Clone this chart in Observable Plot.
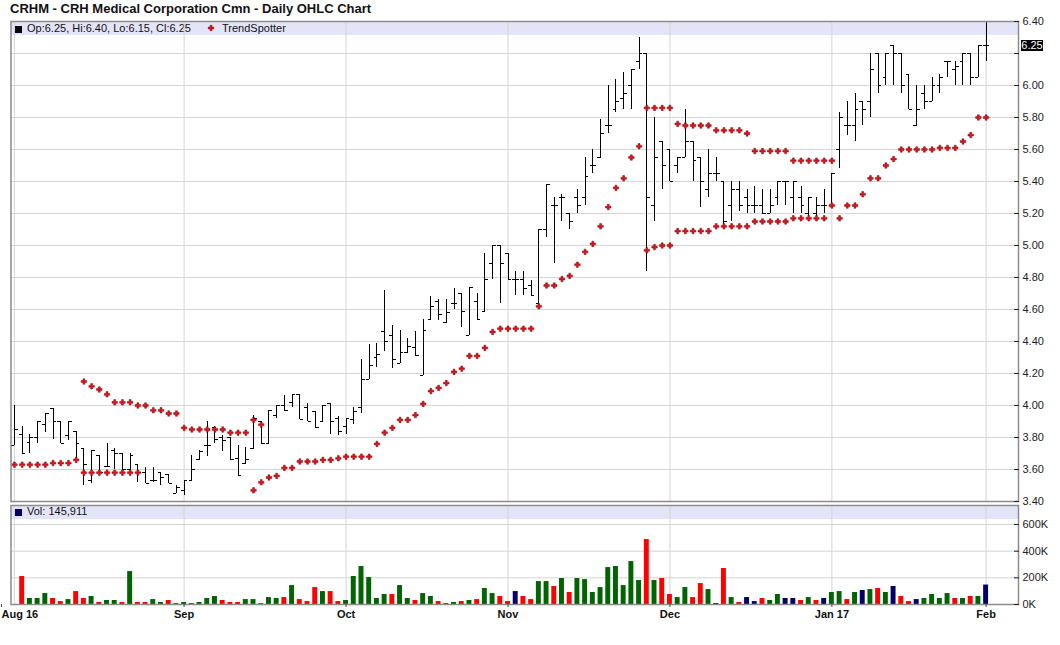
<!DOCTYPE html>
<html>
<head>
<meta charset="utf-8">
<script src="https://cdn.jsdelivr.net/npm/d3@7"></script>
<script src="https://cdn.jsdelivr.net/npm/@observablehq/plot@0.6"></script>
<style>
  body { margin: 0; background: #fff; }
  #wrap { position: relative; width: 1060px; height: 645px; overflow: hidden; font-family: "Liberation Sans", Arial, sans-serif; }
  .title { position: absolute; left: 10px; top: 1px; font-size: 13px; line-height: 15px; font-weight: bold; color: #111; white-space: nowrap; }
  .band { position: absolute; left: 11px; width: 1007px; background: #e4e4f8; font-size: 11px; color: #111; white-space: nowrap; }
  .band .sq { position: absolute; left: 4px; width: 7px; height: 7px; }
  .band .txt { position: absolute; line-height: 13px; }
  .chart { position: absolute; left: 0; }
  .lastbox { position: absolute; left: 1021px; width: 22px; height: 11px; background: #000; color: #fff; font-size: 11px; line-height: 11px; text-align: center; }
</style>
</head>
<body>
<div id="wrap">
  <div class="band" id="priceBand" style="top:21px;height:14px;">
    <div class="sq" style="top:5px;background:#000;"></div>
    <div class="txt" id="ohlcTxt" style="left:16px;top:1px;"></div>
    <svg style="position:absolute;left:196px;top:3px;" width="8" height="8" id="tsSym"></svg>
    <div class="txt" style="left:211px;top:1px;">TrendSpotter</div>
  </div>
  <div class="band" id="volBand" style="top:505px;height:14px;">
    <div class="sq" style="top:4px;background:#000066;"></div>
    <div class="txt" id="volTxt" style="left:16px;top:0px;"></div>
  </div>
  <div class="chart" id="priceChart" style="top:0;"></div>
  <div class="chart" id="volChart" style="top:500px;"></div>
  <div class="title">CRHM - CRH Medical Corporation Cmn - Daily OHLC Chart</div>
</div>
<script>
// ---- Data (trading days Aug 2 2016 .. Feb 1 2017) ----
const opens = [3.75,3.82,3.77,3.80,3.88,3.98,3.90,3.81,3.84,3.73,
  3.53,3.69,3.62,3.72,3.70,3.60,3.63,3.58,3.53,3.58,
  3.57,3.45,3.47,3.53,3.66,3.75,3.86,3.80,3.80,3.67,
  3.64,3.73,3.90,3.76,3.94,4.00,4.02,4.07,3.99,3.96,
  3.90,4.01,3.92,3.87,3.91,3.99,4.16,4.30,4.46,4.44,
  4.26,4.33,4.36,4.19,4.54,4.65,4.52,4.64,4.70,4.44,
  4.65,4.59,4.89,5.00,4.95,4.79,4.79,4.75,4.64,5.10,
  5.25,5.30,5.20,5.30,5.30,5.50,5.55,5.75,5.85,5.92,
  6.00,6.15,6.20,5.25,5.65,5.60,5.50,5.55,5.65,5.55,
  5.35,5.45,5.40,5.25,5.35,5.30,5.25,5.25,5.20,5.30,
  5.40,5.30,5.30,5.20,5.20,5.25,5.25,5.60,5.75,5.75,
  5.90,5.90,6.20,6.05,6.25,6.20,6.07,5.75,5.95,5.90,
  6.00,6.15,6.10,6.15,6.20,6.05,6.25];
const highs = [4.00,3.87,3.82,3.90,3.95,3.98,3.90,3.90,3.84,3.73,
  3.72,3.69,3.76,3.73,3.70,3.70,3.63,3.61,3.61,3.58,
  3.57,3.50,3.53,3.69,3.72,3.90,3.87,3.81,3.80,3.75,
  3.74,3.94,3.90,3.97,4.00,4.06,4.07,4.07,4.01,3.96,
  4.00,4.01,3.93,3.92,3.99,4.29,4.38,4.39,4.72,4.50,
  4.47,4.42,4.46,4.54,4.68,4.66,4.66,4.73,4.70,4.74,
  4.70,4.95,5.00,5.00,4.95,4.84,4.84,4.78,5.10,5.38,
  5.30,5.32,5.20,5.35,5.55,5.60,5.79,6.00,6.04,6.08,
  6.10,6.30,6.20,5.80,5.65,5.60,5.55,5.85,5.65,5.55,
  5.60,5.55,5.40,5.40,5.40,5.35,5.37,5.35,5.35,5.40,
  5.40,5.40,5.37,5.30,5.30,5.35,5.45,5.83,5.90,5.95,
  5.90,6.20,6.20,6.20,6.25,6.20,6.07,6.00,6.00,6.05,
  6.07,6.15,6.15,6.20,6.20,6.25,6.40];
const lows = [3.75,3.70,3.70,3.76,3.83,3.79,3.76,3.78,3.66,3.50,
  3.51,3.56,3.62,3.60,3.60,3.58,3.52,3.51,3.52,3.50,
  3.51,3.45,3.44,3.53,3.66,3.68,3.76,3.71,3.66,3.56,
  3.64,3.73,3.76,3.76,3.92,3.97,3.99,3.91,3.90,3.86,
  3.90,3.82,3.81,3.82,3.88,3.95,4.16,4.24,4.34,4.23,
  4.26,4.33,4.31,4.19,4.54,4.53,4.51,4.60,4.49,4.44,
  4.54,4.59,4.79,4.64,4.79,4.69,4.69,4.69,4.64,5.05,
  4.89,5.15,5.10,5.20,5.25,5.45,5.55,5.70,5.83,5.85,
  5.85,6.10,4.84,5.15,5.35,5.40,5.45,5.55,5.40,5.24,
  5.30,5.40,5.10,5.15,5.21,5.20,5.20,5.20,5.20,5.25,
  5.25,5.20,5.20,5.15,5.15,5.20,5.25,5.48,5.69,5.65,
  5.75,5.80,5.95,6.00,6.00,5.95,5.85,5.75,5.85,5.90,
  5.95,6.05,6.00,6.00,6.00,6.05,6.15];
const closes = [3.85,3.70,3.80,3.90,3.95,3.90,3.76,3.90,3.76,3.63,
  3.72,3.58,3.62,3.70,3.60,3.69,3.58,3.51,3.53,3.55,
  3.51,3.49,3.53,3.60,3.71,3.75,3.79,3.78,3.66,3.56,
  3.66,3.92,3.76,3.97,4.00,3.97,4.07,3.91,3.90,3.86,
  4.00,3.90,3.84,3.92,3.96,4.16,4.25,4.32,4.40,4.29,
  4.33,4.37,4.31,4.47,4.62,4.57,4.58,4.64,4.59,4.74,
  4.54,4.79,5.00,4.89,4.79,4.79,4.73,4.69,5.10,5.38,
  5.25,5.30,5.15,5.25,5.43,5.50,5.70,5.75,5.90,5.95,
  6.10,6.20,5.30,5.55,5.50,5.40,5.55,5.65,5.53,5.40,
  5.45,5.45,5.15,5.35,5.25,5.25,5.25,5.20,5.25,5.40,
  5.40,5.40,5.25,5.30,5.25,5.25,5.45,5.80,5.75,5.85,
  5.85,6.10,6.00,6.20,6.20,6.00,5.85,5.85,5.90,6.00,
  6.05,6.15,6.12,6.20,6.05,6.25,6.25];
// volume in thousands of shares
const vols = [null,210,45,45,82,45,22,37,97,45,
  60,15,30,30,15,247,15,15,37,15,
  30,7,15,7,15,45,60,30,15,15,
  37,37,7,52,45,52,142,37,22,127,
  97,97,22,30,210,285,202,45,75,75,
  142,45,30,82,60,22,7,15,22,30,
  37,120,82,60,22,97,60,37,172,172,
  135,195,90,195,187,90,127,277,285,142,
  322,180,487,180,195,75,52,127,52,157,
  112,7,270,52,15,52,22,45,30,75,
  45,45,30,52,30,45,90,97,37,90,
  105,112,120,90,135,60,22,37,45,75,
  45,82,45,45,60,60,145.911];
// TrendSpotter stop levels
const tsUpper = [null,null,null,null,null,null,null,null,null,4.15,
  4.12,4.10,4.07,4.02,4.02,4.02,4.00,4.00,3.97,3.97,
  3.95,3.95,3.86,3.85,3.85,3.85,3.85,3.85,3.83,3.83,
  3.83,3.91,3.88,null,null,null,null,null,null,null,
  null,null,null,null,null,null,null,null,null,null,
  null,null,null,null,null,null,null,null,null,null,
  null,null,null,null,null,null,null,null,null,null,
  null,null,null,null,null,null,null,null,null,null,
  null,null,5.86,5.86,5.86,5.86,5.76,5.75,5.75,5.75,
  5.75,5.72,5.72,5.72,5.72,5.70,5.59,5.59,5.59,5.59,
  5.59,5.53,5.53,5.53,5.53,5.53,5.53,null,null,null,
  null,null,null,null,null,null,null,null,null,null,
  null,null,null,null,null,null,null];
const tsLower = [3.63,3.63,3.63,3.63,3.63,3.64,3.64,3.64,3.66,3.58,
  3.58,3.58,3.58,3.58,3.58,3.58,3.58,null,null,null,
  null,null,null,null,null,null,null,null,null,null,
  null,3.47,3.52,3.55,3.56,3.61,3.61,3.65,3.65,3.65,
  3.66,3.66,3.67,3.68,3.68,3.68,3.68,3.76,3.83,3.86,
  3.91,3.91,3.94,4.01,4.09,4.11,4.14,4.21,4.23,4.31,
  4.31,4.36,4.46,4.48,4.48,4.48,4.48,4.48,4.62,4.75,
  4.75,4.79,4.81,4.88,4.96,5.01,5.12,5.24,5.36,5.42,
  5.55,5.62,4.97,4.99,5.00,5.00,5.09,5.09,5.09,5.09,
  5.09,5.12,5.12,5.12,5.12,5.12,5.15,5.15,5.15,5.15,
  5.15,5.17,5.17,5.17,5.17,5.17,5.25,5.17,5.25,5.25,
  5.32,5.42,5.42,5.50,5.54,5.60,5.60,5.60,5.60,5.60,
  5.61,5.61,5.61,5.65,5.69,5.80,5.80];
// axis ticks / labels
const monthStarts = [0, 22, 43, 64, 85, 106, 126];
const monthLabels = ["Aug 16", "Sep", "Oct", "Nov", "Dec", "Jan 17", "Feb"];
const priceTicks = [3.40,3.60,3.80,4.00,4.20,4.40,4.60,4.80,5.00,5.20,5.40,5.60,5.80,6.00,6.20,6.40];
const volTicks = [0, 200, 400, 600];

// ---- Build ----
const days = opens.map((o, i) => ({i, o, h: highs[i], l: lows[i], c: closes[i]}));
const last = days[days.length - 1];
const volData = vols.map((v, i) => ({
  i, v,
  dir: i === 0 ? "unch" : closes[i] > closes[i - 1] ? "up" : closes[i] < closes[i - 1] ? "down" : "unch"
}));
const upperDots = tsUpper.map((v, i) => ({i, v})).filter(d => d.v != null);
const lowerDots = tsLower.map((v, i) => ({i, v})).filter(d => d.v != null);
const tsDots = upperDots.concat(lowerDots);
const monthLabelOf = new Map(monthStarts.map((m, k) => [m, monthLabels[k]]));
// the last-price marker hides the axis label it would cover
const priceLabelTicks = priceTicks.filter(t => Math.abs(t - last.c) > 0.06);

const xDomain = [-0.45, 130.2];
const font = {background: "transparent", fontFamily: "'Liberation Sans', Arial, sans-serif", fontSize: "11px", color: "#222", overflow: "visible"};
const grid = {stroke: "#d4d4d4", strokeOpacity: 1, strokeWidth: 1};
const frameStyle = {stroke: "#8c8c8c", strokeWidth: 1.5};
const dotStyle = {symbol: "cross", r: 2.3, fill: "#e8101b", stroke: "#700000", strokeWidth: 0.5};
const monthAxisStyle = {anchor: "bottom", tickSize: 3, tickPadding: 3, tickFormat: d => monthLabelOf.get(d), fontWeight: "bold", fill: "#111", stroke: "#444"};

const priceChart = Plot.plot({
  width: 1060, height: 505,
  marginTop: 21, marginBottom: 4, marginLeft: 10.5, marginRight: 42,
  style: font,
  x: {domain: xDomain, axis: null, label: null},
  y: {domain: [3.40, 6.40], axis: null, label: null},
  marks: [
    Plot.gridY(priceTicks, grid),
    Plot.gridX(monthStarts, grid),
    Plot.ruleX(days, {x: "i", y1: "l", y2: "h", stroke: "#000", strokeWidth: 1, shapeRendering: "crispEdges"}),
    Plot.link(days, {x1: d => d.i - 0.43, x2: "i", y1: "o", y2: "o", stroke: "#000", strokeWidth: 1, shapeRendering: "crispEdges"}),
    Plot.link(days, {x1: "i", x2: d => d.i + 0.43, y1: "c", y2: "c", stroke: "#000", strokeWidth: 1, shapeRendering: "crispEdges"}),
    Plot.dot(tsDots, {x: "i", y: "v", ...dotStyle}),
    Plot.frame(frameStyle),
    Plot.axisY(priceTicks, {anchor: "right", tickSize: -5, tickFormat: null, text: null, stroke: "#222", fill: "none"}),
    Plot.axisY(priceLabelTicks, {anchor: "right", tickSize: 0, tickPadding: 4, tickFormat: d3.format(".2f"), fill: "#222"})
  ]
});
document.getElementById("priceChart").appendChild(priceChart);

const volChart = Plot.plot({
  width: 1060, height: 130,
  marginTop: 5, marginBottom: 26, marginLeft: 10.5, marginRight: 42,
  style: font,
  x: {domain: xDomain, axis: null, label: null},
  y: {domain: [0, 742.5], axis: null, label: null},
  color: {domain: ["up", "down", "unch"], range: ["#006400", "#ff0000", "#000066"]},
  marks: [
    Plot.gridY(volTicks.filter(t => t > 0), grid),
    Plot.gridX(monthStarts, grid),
    Plot.rect(volData.filter(d => d.v != null), {x1: d => d.i - 0.32, x2: d => d.i + 0.32, y1: 0, y2: "v", fill: "dir"}),
    Plot.frame(frameStyle),
    Plot.axisY(volTicks, {anchor: "right", tickSize: -5, tickPadding: 9, tickFormat: d => d + "K", stroke: "#222", fill: "#222"}),
    // first month label sits at the left edge, so it is left-aligned to stay inside the picture
    Plot.axisX(monthStarts.slice(0, 1), {...monthAxisStyle, textAnchor: "start", dx: -13}),
    Plot.axisX(monthStarts.slice(1), monthAxisStyle)
  ]
});
document.getElementById("volChart").appendChild(volChart);

// legends from data
const f2 = d3.format(".2f");
document.getElementById("ohlcTxt").textContent = `Op:${f2(last.o)}, Hi:${f2(last.h)}, Lo:${f2(last.l)}, Cl:${f2(last.c)}`;
document.getElementById("volTxt").textContent = `Vol: ${d3.format(",")(Math.round(vols[vols.length - 1] * 1000))}`;
d3.select("#tsSym").append("path")
  .attr("transform", "translate(4,4)")
  .attr("d", d3.symbol(d3.symbolCross, Math.PI * 2.3 * 2.3)())
  .attr("fill", dotStyle.fill).attr("stroke", dotStyle.stroke).attr("stroke-width", 0.5);

// last price marker on the right axis
const yLast = priceChart.scale("y").apply(last.c);
const box = document.createElement("div");
box.className = "lastbox";
box.style.top = (yLast - 5.5) + "px";
box.textContent = f2(last.c);
document.getElementById("wrap").appendChild(box);
</script>
</body>
</html>
